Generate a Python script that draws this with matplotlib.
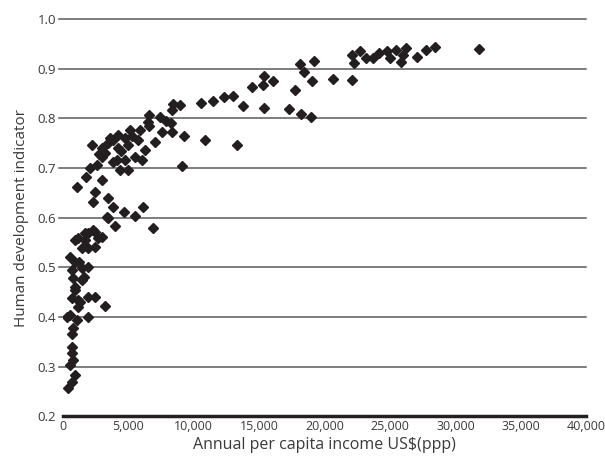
import matplotlib.pyplot as plt
plt.switch_backend('agg')
from matplotlib.ticker import FuncFormatter

# Income (US$ ppp) and HDI
income = [
    31800, 28460, 27770, 27080, 26240, 26010, 25860, 25470, 25020, 24790,
    24170, 23720, 23180, 22720, 22100, 22260, 22100, 20660, 19200, 18130,
    18440, 19050, 17750, 17290, 18210, 18970,
    8950, 10560, 11470, 12320, 13010, 13770, 14460, 15300, 15380, 16070,
    15380, 9260, 10860, 13310, 9100,
    8420, 8340, 8260, 8340, 7420, 7570, 6580, 6500, 7040, 6270,
    6040, 5890, 5740, 5510, 5130, 4970, 4740, 4210, 4210, 4130,
    4740, 4970, 4360, 3830, 3830, 3440, 3210, 2980, 2980, 2220,
    2600, 2070, 1760, 1070, 2980, 2450, 2300, 3440, 3830, 3370,
    4670, 5510, 6120, 3980, 6880, 920, 1680, 2300, 2980,
    3440, 1910, 2450, 1150, 1680, 2680, 1450, 1910, 2450, 920,
    1450, 1910, 690, 770, 1450, 920, 690, 1150, 1910, 2450,
    3210, 540, 1910, 1070, 770, 690, 690, 770, 540, 920,
    690, 380, 300, 1150, 540, 920, 1300, 700, 1200, 1600,
    3600, 4450, 5300, 6600, 7900, 2750,
]
hdi = [
    0.940, 0.944, 0.938, 0.924, 0.942, 0.928, 0.914, 0.938, 0.922, 0.936,
    0.932, 0.922, 0.922, 0.936, 0.928, 0.911, 0.877, 0.879, 0.916, 0.910,
    0.893, 0.875, 0.857, 0.819, 0.809, 0.803,
    0.827, 0.831, 0.835, 0.843, 0.845, 0.825, 0.863, 0.867, 0.885, 0.875,
    0.821, 0.765, 0.757, 0.746, 0.705,
    0.829, 0.817, 0.791, 0.773, 0.803, 0.773, 0.807, 0.793, 0.752, 0.736,
    0.716, 0.777, 0.756, 0.722, 0.777, 0.746, 0.760, 0.766, 0.740, 0.716,
    0.716, 0.696, 0.696, 0.712, 0.756, 0.750, 0.730, 0.740, 0.722, 0.746,
    0.706, 0.700, 0.682, 0.662, 0.676, 0.652, 0.631, 0.640, 0.621, 0.601,
    0.611, 0.603, 0.621, 0.583, 0.579, 0.555, 0.569, 0.575, 0.561,
    0.599, 0.569, 0.571, 0.559, 0.555, 0.559, 0.539, 0.539, 0.541, 0.510,
    0.498, 0.500, 0.494, 0.478, 0.474, 0.454, 0.438, 0.434, 0.440, 0.440,
    0.422, 0.404, 0.400, 0.394, 0.377, 0.339, 0.327, 0.313, 0.303, 0.283,
    0.269, 0.256, 0.400, 0.420, 0.520, 0.460, 0.430, 0.365, 0.510, 0.480,
    0.760, 0.735, 0.765, 0.785, 0.795, 0.728,
]

x_ticks = [0, 5000, 10000, 15000, 20000, 25000, 30000, 35000, 40000]
y_ticks = [0.2, 0.3, 0.4, 0.5, 0.6, 0.7, 0.8, 0.9, 1.0]

plt.rcParams['font.family'] = ['Open Sans', 'DejaVu Sans']

fig = plt.figure(figsize=(6.05, 4.66), dpi=100)
ax = fig.add_axes([0.104, 0.107, 0.865, 0.852])

# horizontal gridlines, slightly overhanging the left edge like the original
for yv in y_ticks[1:]:
    ax.axhline(yv, xmin=-0.008, color='#5a5a5a', lw=1.1, zorder=1, clip_on=False)

ax.plot(income, hdi, linestyle='none', marker='D', ms=5.6,
        color='#231f20', zorder=3)

ax.set_xlim(0, 40000)
ax.set_ylim(0.2, 1.0)
ax.set_xticks(x_ticks)
ax.set_yticks(y_ticks)
ax.xaxis.set_major_formatter(FuncFormatter(lambda v, p: f'{int(v):,}'))
ax.yaxis.set_major_formatter(FuncFormatter(lambda v, p: f'{v:.1f}'))
ax.tick_params(axis='x', length=0, labelsize=9, colors='#3a3a3a', pad=3)
ax.tick_params(axis='y', length=0, labelsize=9.5, colors='#3a3a3a', pad=5)

for s in ['top', 'right', 'left']:
    ax.spines[s].set_visible(False)
ax.spines['bottom'].set_linewidth(2.5)
ax.spines['bottom'].set_color('#231f20')

ax.set_xlabel('Annual per capita income US$(ppp)', fontsize=11.5, color='#3a3a3a', labelpad=3)
ax.set_ylabel('Human development indicator', fontsize=11, color='#3a3a3a', labelpad=6)

fig.savefig('out.png', dpi=100)
plt.close()
